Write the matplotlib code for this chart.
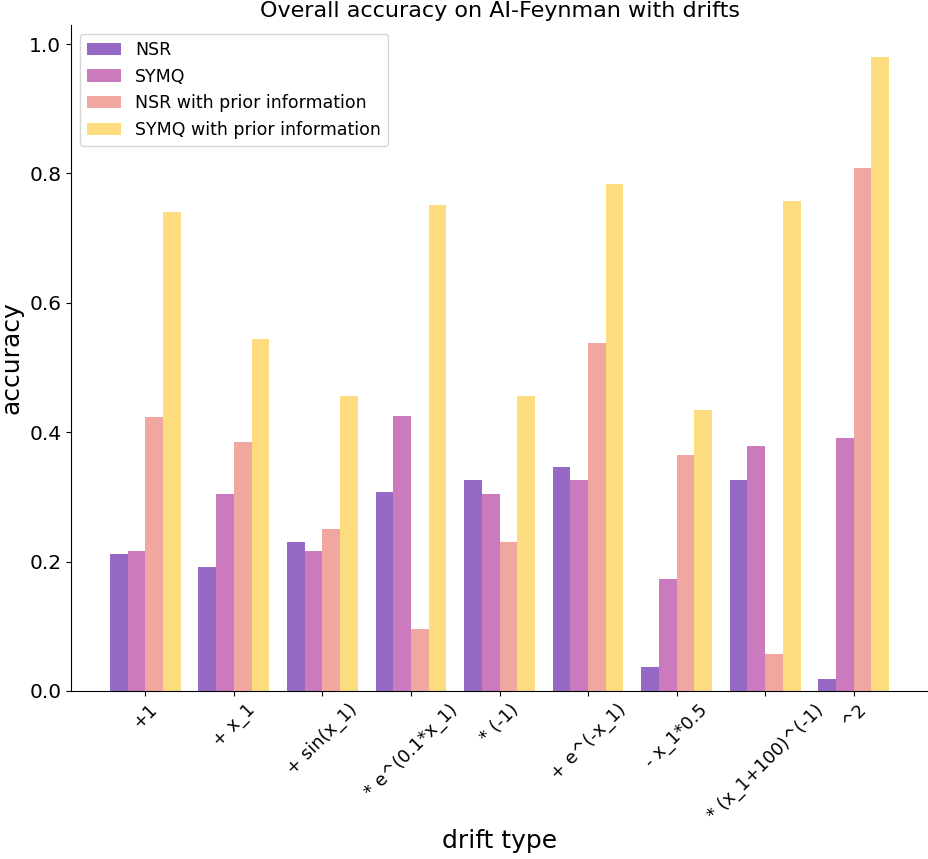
import numpy as np
import matplotlib
matplotlib.use("Agg")
import matplotlib.pyplot as plt

drifts = ['+1', '+ x_1', '+ sin(x_1)', '* e^(0.1*x_1)', '* (-1)',
          '+ e^(-x_1)', '- x_1*0.5', '* (x_1+100)^(-1)', '^2']
nsr = [0.212, 0.192, 0.230, 0.308, 0.326, 0.346, 0.037, 0.326, 0.018]
symq = [0.216, 0.304, 0.216, 0.425, 0.304, 0.326, 0.173, 0.378, 0.391]
nsr_prior = [0.423, 0.385, 0.250, 0.096, 0.231, 0.538, 0.365, 0.057, 0.808]
symq_prior = [0.740, 0.544, 0.456, 0.751, 0.456, 0.784, 0.435, 0.758, 0.980]

series = [
    ("NSR", nsr, '#9669c6'),
    ("SYMQ", symq, '#cb7bbd'),
    ("NSR with prior information", nsr_prior, '#f0a7a0'),
    ("SYMQ with prior information", symq_prior, '#fcdc7e'),
]

fig = plt.figure(figsize=(9.29, 8.59), dpi=100)
ax = fig.add_axes([0.0764, 0.1956, 0.9226, 0.775])

x = np.arange(len(drifts))
width = 0.2
for i, (label, vals, color) in enumerate(series):
    ax.bar(x + (i - 1.5) * width, vals, width, label=label, color=color)

# Format plot
ax.set_title("Overall accuracy on AI-Feynman with drifts", fontsize=16)
ax.set_xlabel("drift type", fontsize=18)
ax.xaxis.set_label_coords(0.5, -0.208)
ax.set_ylabel("accuracy", fontsize=18)
ax.set_xticks(x)
ax.set_xticklabels(drifts, rotation=45)
ax.tick_params(axis="x", labelsize=13)
ax.tick_params(axis="y", labelsize=14.5)
ax.spines['top'].set_visible(False)
ax.spines['right'].set_visible(False)
ax.legend(loc='upper left', fontsize=12.5)

fig.savefig("out.png", dpi=100)
